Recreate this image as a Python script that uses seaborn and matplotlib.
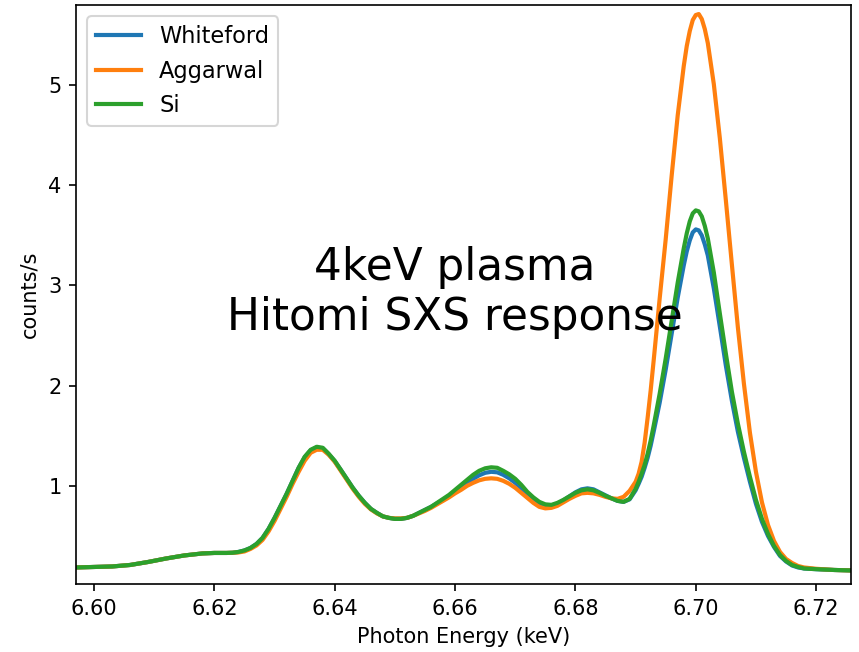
import matplotlib.pyplot as plt
import numpy as np
import pandas as pd
import seaborn as sns

# photon energy sample points (keV)
energy = [
    6.597, 6.600, 6.603, 6.606, 6.609, 6.612, 6.615, 6.618, 6.620, 6.622, 6.623,
    6.624, 6.625, 6.626, 6.627, 6.628, 6.629, 6.630, 6.631, 6.632, 6.633,
    6.634, 6.635, 6.636, 6.637, 6.638, 6.639, 6.640, 6.641, 6.642, 6.643,
    6.644, 6.645, 6.646, 6.647, 6.648, 6.649, 6.650, 6.651,
    6.652, 6.653, 6.654, 6.655, 6.656, 6.657, 6.658, 6.659,
    6.660, 6.661, 6.662, 6.663, 6.664, 6.665, 6.666, 6.667, 6.668, 6.669,
    6.670, 6.671, 6.672, 6.673, 6.674, 6.675, 6.676, 6.677, 6.678, 6.679,
    6.680, 6.681, 6.682, 6.683, 6.684, 6.685, 6.686, 6.687, 6.688,
    6.689, 6.690, 6.6905, 6.691, 6.6915, 6.692, 6.6925, 6.693, 6.694,
    6.695, 6.696, 6.697, 6.698, 6.6985, 6.699, 6.6995, 6.700, 6.7005,
    6.701, 6.7015, 6.702, 6.703, 6.704, 6.705, 6.706, 6.707, 6.708,
    6.709, 6.710, 6.711, 6.712, 6.713, 6.714, 6.715, 6.716, 6.717, 6.718,
    6.720, 6.723, 6.726,
]

whiteford = [
    0.185, 0.19, 0.195, 0.21, 0.24, 0.275, 0.305, 0.325, 0.33, 0.33, 0.332,
    0.34, 0.355, 0.38, 0.42, 0.48, 0.57, 0.68, 0.80, 0.92, 1.05,
    1.18, 1.285, 1.355, 1.38, 1.375, 1.315, 1.245, 1.16, 1.07, 0.98,
    0.90, 0.83, 0.77, 0.73, 0.695, 0.68, 0.67, 0.67,
    0.68, 0.70, 0.73, 0.76, 0.79, 0.825, 0.86, 0.90,
    0.945, 0.99, 1.03, 1.07, 1.105, 1.13, 1.14, 1.135, 1.11, 1.075,
    1.03, 0.975, 0.915, 0.865, 0.825, 0.805, 0.80, 0.82, 0.855, 0.895,
    0.935, 0.965, 0.975, 0.965, 0.935, 0.905, 0.875, 0.85, 0.84,
    0.865, 0.955, 1.02, 1.09, 1.18, 1.28, 1.40, 1.54, 1.83,
    2.16, 2.52, 2.88, 3.20, 3.34, 3.45, 3.53, 3.56, 3.55,
    3.50, 3.41, 3.30, 2.97, 2.59, 2.20, 1.85, 1.54, 1.28,
    1.04, 0.82, 0.64, 0.50, 0.39, 0.30, 0.245, 0.205, 0.185, 0.175,
    0.168, 0.16, 0.155,
]

aggarwal = [
    0.185, 0.19, 0.195, 0.21, 0.24, 0.275, 0.305, 0.325, 0.33, 0.33, 0.332,
    0.335, 0.345, 0.37, 0.405, 0.46, 0.545, 0.65, 0.77, 0.89, 1.02,
    1.14, 1.25, 1.33, 1.36, 1.36, 1.31, 1.24, 1.15, 1.06, 0.97,
    0.89, 0.82, 0.765, 0.725, 0.695, 0.68, 0.675, 0.675,
    0.68, 0.70, 0.725, 0.75, 0.78, 0.815, 0.85, 0.885,
    0.925, 0.96, 1.00, 1.03, 1.055, 1.07, 1.075, 1.07, 1.05, 1.02,
    0.98, 0.93, 0.88, 0.83, 0.79, 0.775, 0.78, 0.80, 0.835, 0.87,
    0.90, 0.925, 0.93, 0.925, 0.91, 0.89, 0.875, 0.87, 0.89,
    0.95, 1.04, 1.12, 1.24, 1.43, 1.68, 1.95, 2.25, 2.87,
    3.46, 4.10, 4.70, 5.19, 5.39, 5.54, 5.65, 5.70, 5.71,
    5.66, 5.56, 5.42, 5.01, 4.47, 3.85, 3.21, 2.58, 2.02,
    1.53, 1.14, 0.835, 0.61, 0.45, 0.34, 0.27, 0.23, 0.20, 0.185,
    0.172, 0.16, 0.155,
]

si = [
    0.185, 0.19, 0.195, 0.21, 0.24, 0.275, 0.305, 0.325, 0.33, 0.33, 0.332,
    0.34, 0.355, 0.38, 0.42, 0.48, 0.57, 0.68, 0.80, 0.92, 1.05,
    1.18, 1.29, 1.36, 1.39, 1.38, 1.32, 1.25, 1.16, 1.07, 0.98,
    0.90, 0.83, 0.77, 0.73, 0.695, 0.68, 0.67, 0.67,
    0.68, 0.70, 0.73, 0.76, 0.79, 0.83, 0.87, 0.91,
    0.96, 1.01, 1.06, 1.11, 1.15, 1.175, 1.185, 1.18, 1.15, 1.115,
    1.07, 1.01, 0.94, 0.885, 0.84, 0.815, 0.81, 0.83, 0.86, 0.895,
    0.93, 0.955, 0.965, 0.955, 0.93, 0.90, 0.875, 0.85, 0.84,
    0.87, 0.97, 1.04, 1.12, 1.21, 1.32, 1.45, 1.60, 1.92,
    2.27, 2.65, 3.03, 3.37, 3.52, 3.64, 3.72, 3.75, 3.74,
    3.69, 3.595, 3.47, 3.13, 2.72, 2.32, 1.94, 1.62, 1.34,
    1.09, 0.86, 0.67, 0.52, 0.40, 0.31, 0.25, 0.21, 0.19, 0.175,
    0.168, 0.16, 0.155,
]

series_names = ["Whiteford", "Aggarwal", "Si"]
colors = ["#1f77b4", "#ff7f0e", "#2ca02c"]

frames = []
for name, vals in zip(series_names, [whiteford, aggarwal, si]):
    frames.append(pd.DataFrame({"energy": energy, "counts": vals, "model": name}))
df = pd.concat(frames, ignore_index=True)

fig = plt.figure(figsize=(859 / 150, 652 / 150), dpi=150)
ax = fig.add_axes([0.0885, 0.1043, 0.9022, 0.888])

sns.lineplot(data=df, x="energy", y="counts", hue="model",
             hue_order=series_names, palette=colors, sort=False,
             linewidth=2, ax=ax)

handles, labels = ax.get_legend_handles_labels()
ax.legend(handles, labels, loc="upper left", fontsize=10.8)

ax.text(6.66, 2.93, "4keV plasma\nHitomi SXS response", fontsize=21,
        ha="center", va="center", multialignment="center")

ax.set_xlim(6.597, 6.7258)
ax.set_ylim(0.02, 5.80)
ax.set_xticks([6.60, 6.62, 6.64, 6.66, 6.68, 6.70, 6.72])
ax.set_yticks([1, 2, 3, 4, 5])
ax.set_xlabel("Photon Energy (keV)")
ax.set_ylabel("counts/s")

fig.savefig("out.png", dpi=150)
